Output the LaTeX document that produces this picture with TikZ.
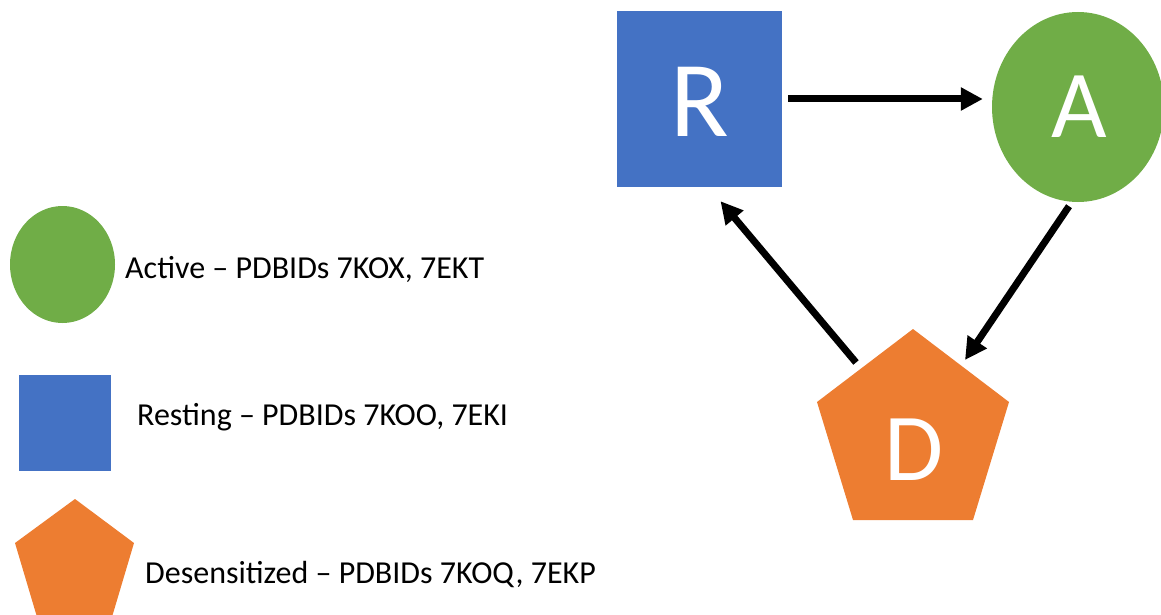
\documentclass[tikz,border=0pt]{standalone}
\usepackage{fontspec}
\setmainfont{Carlito}
\usetikzlibrary{arrows.meta,shapes.geometric,calc}
\definecolor{restblue}{HTML}{4472C4}
\definecolor{actgreen}{HTML}{70AD47}
\definecolor{desorange}{HTML}{ED7D31}
\begin{document}
\begin{tikzpicture}[x=1pt,y=-1pt,
  flow/.style={line width=7pt,-{Triangle[length=22pt,width=22pt]}},
  statelbl/.style={text=white,inner sep=0pt,anchor=base},
  legtext/.style={font=\fontsize{32}{38}\selectfont,anchor=base west,inner sep=0pt}]
\useasboundingbox (0,0) rectangle (1161,615);
\clip (0,0) rectangle (1161,615);

% state diagram
\node[rectangle,fill=restblue,minimum width=165pt,minimum height=176pt,inner sep=0pt] (R) at (699.5,99) {};
\node[ellipse,fill=actgreen,minimum width=172pt,minimum height=190pt,inner sep=0pt] (A) at (1078,107) {};
\fill[desorange] (913,329) coordinate (D1) -- (1009,402) coordinate (D2)
  -- (973,520) coordinate (D3) -- (853,520) coordinate (D4)
  -- (817,402) coordinate (D5) -- cycle;

\node[statelbl,font=\fontsize{108}{120}\selectfont] (Rtxt) at ($(R.center)+(0,37)$) {R};
\node[statelbl,font=\fontsize{96}{110}\selectfont] (Atxt) at (1079.5,138) {A};
\node[statelbl,font=\fontsize{96}{110}\selectfont] (D) at (914,480) {D};

\draw[flow] ($(R.east)+(6,0)$) -- ($(R.east -| A.west)+(-9,0)$);
\draw[flow] ($(A.south)+(-9,4)$) -- ($(D1)!0.5!(D2)+(4,-5.5)$);
\draw[flow] ($(D1)!0.5!(D5)+(-9,-3)$) -- ($(R.south)+(21,14)$);

% legend
\node[ellipse,fill=actgreen,minimum width=105pt,minimum height=117pt,inner sep=0pt] (legA) at (62.5,264.5) {};
\node[rectangle,fill=restblue,minimum width=92pt,minimum height=96pt,inner sep=0pt] (legR) at (65,423) {};
\fill[desorange] (75,499) -- (134,543) -- (112,617) -- (37,617) -- (15,543) -- cycle;

\node[legtext] (legAtxt) at (125,278) {Active – PDBIDs 7KOX, 7EKT};
\node[legtext] (legRtxt) at (137,425) {Resting – PDBIDs 7KOO, 7EKI};
\node[legtext] (legDtxt) at (145,583) {Desensitized – PDBIDs 7KOQ, 7EKP};
\end{tikzpicture}
\end{document}
